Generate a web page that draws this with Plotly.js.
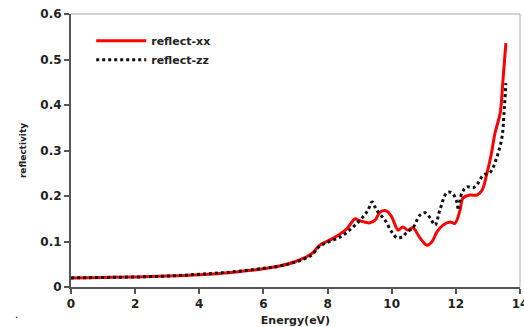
<!DOCTYPE html>
<html>
<head>
<meta charset="utf-8">
<script src="https://cdn.plot.ly/plotly-3.0.1.min.js"></script>
<style>html,body{margin:0;padding:0;background:#fff;}#chart{width:524px;height:327px;}</style>
</head>
<body>
<div id="chart"></div>
<script>
var xxEnergy = [0,1,2,3,4,5,6,6.5,7,7.5,7.76,8.2,8.6,8.86,8.95,9.15,9.32,9.48,9.64,9.85,10.0,10.2,10.35,10.5,10.66,10.88,11.1,11.25,11.41,11.6,11.82,11.97,12.13,12.22,12.44,12.66,12.82,12.97,13.1,13.22,13.38,13.47,13.56];
var xxReflect = [0.020,0.021,0.022,0.024,0.027,0.032,0.040,0.046,0.056,0.073,0.092,0.108,0.128,0.150,0.147,0.143,0.141,0.147,0.165,0.167,0.154,0.125,0.132,0.125,0.130,0.108,0.092,0.099,0.121,0.136,0.143,0.140,0.169,0.195,0.202,0.202,0.213,0.250,0.290,0.338,0.382,0.455,0.536];
var zzEnergy = [0,1,2,3,4,5,6,6.5,7,7.5,7.76,8.39,8.8,9.1,9.26,9.39,9.48,9.57,9.79,10.0,10.17,10.32,10.48,10.66,10.88,11.04,11.2,11.35,11.5,11.72,11.88,12.04,12.07,12.19,12.35,12.54,12.7,12.85,13.07,13.28,13.44,13.5,13.56];
var zzReflect = [0.020,0.021,0.022,0.024,0.028,0.033,0.041,0.046,0.055,0.070,0.090,0.110,0.132,0.154,0.169,0.187,0.176,0.165,0.147,0.121,0.108,0.110,0.121,0.130,0.158,0.163,0.152,0.136,0.169,0.207,0.207,0.185,0.169,0.207,0.220,0.218,0.229,0.246,0.252,0.286,0.330,0.380,0.448];
var seriesNames = ["reflect-xx", "reflect-zz"];
var xTicks = [0,2,4,6,8,10,12,14];
var yTicks = [0,0.1,0.2,0.3,0.4,0.5,0.6];
var yTickText = ["0","0.1","0.2","0.3","0.4","0.5","0.6"];

var font = "DejaVu Sans, Verdana, sans-serif";
var traces = [
  {x: xxEnergy, y: xxReflect, name: seriesNames[0], mode: "lines", line: {color: "#ff0000", width: 3, shape: "spline"}},
  {x: zzEnergy, y: zzReflect, name: seriesNames[1], mode: "lines", line: {color: "#111111", width: 3, dash: "3px,3px", shape: "spline"}}
];
var layout = {
  width: 524, height: 327,
  margin: {l: 71, r: 4, t: 14, b: 40},
  paper_bgcolor: "#fff", plot_bgcolor: "#fff",
  font: {family: font, color: "#222", size: 11},
  showlegend: true,
  legend: {x: 0.045, y: 0.955, xanchor: "left", yanchor: "top", bgcolor: "rgba(0,0,0,0)",
           font: {family: font, size: 11, color: "#222", weight: "bold"}, tracegroupgap: 0, itemwidth: 50},
  xaxis: {range: [0, 14], tickvals: xTicks, ticks: "outside", ticklen: 5, tickwidth: 2, tickcolor: "#555",
          showline: true, linecolor: "#555", linewidth: 2, showgrid: false, zeroline: false,
          ticklabeloverflow: "allow",
          tickfont: {family: font, size: 12, color: "#222", weight: "bold"},
          title: {text: "Energy(eV)", font: {family: font, size: 11, color: "#222", weight: "bold"}, standoff: 6}},
  yaxis: {range: [0, 0.6], tickvals: yTicks, ticktext: yTickText, ticks: "outside", ticklen: 5, tickwidth: 2, tickcolor: "#555",
          showline: true, linecolor: "#555", linewidth: 2, showgrid: false, zeroline: false,
          tickfont: {family: font, size: 12, color: "#222", weight: "bold"},
          title: {text: "reflectivity", font: {family: font, size: 9, color: "#222", weight: "bold"}, standoff: 12}},
  shapes: [
    {type: "line", xref: "paper", yref: "paper", x0: 0, x1: 1, y0: 1, y1: 1, line: {color: "#aaa", width: 1}},
    {type: "line", xref: "paper", yref: "paper", x0: 1, x1: 1, y0: 0, y1: 1, line: {color: "#aaa", width: 1}}
  ],
  annotations: [
    {text: ".", xref: "paper", yref: "paper", x: -0.13, y: -0.13, xanchor: "left", yanchor: "bottom", showarrow: false, font: {size: 10, color: "#000"}}
  ]
};
Plotly.newPlot("chart", traces, layout, {displayModeBar: false, staticPlot: true});
</script>
</body>
</html>
